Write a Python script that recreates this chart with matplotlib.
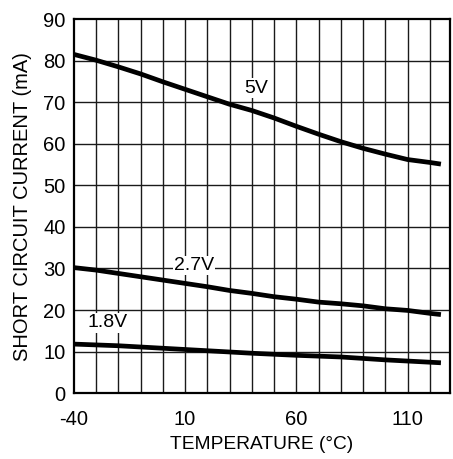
import matplotlib
matplotlib.use('Agg')
import matplotlib.pyplot as plt
import numpy as np

plt.rcParams['font.family'] = ['Liberation Sans', 'DejaVu Sans']
plt.rcParams['axes.unicode_minus'] = False

# temperature (degC) and short circuit current (mA)
temp = [-40, -30, -20, -10, 0, 10, 20, 30, 40, 50, 60, 70, 80, 90, 100, 110, 120, 125]
i_5v = [81.5, 80.1, 78.5, 76.8, 74.9, 73.1, 71.3, 69.5, 68.0, 66.2, 64.2, 62.3, 60.5,
        58.9, 57.5, 56.2, 55.5, 55.1]
i_27v = [30.2, 29.6, 28.8, 28.0, 27.2, 26.4, 25.6, 24.7, 24.0, 23.2, 22.6, 21.9, 21.5,
         21.0, 20.3, 19.9, 19.2, 18.9]
temp_18 = [-40, -20, 0, 20, 40, 60, 80, 100, 125]
i_18v = [11.8, 11.4, 10.8, 10.2, 9.6, 9.1, 8.7, 8.0, 7.3]

xticks = [-40, 10, 60, 110]
yticks = [0, 10, 20, 30, 40, 50, 60, 70, 80, 90]

fig = plt.figure(figsize=(4.53, 4.59), dpi=100)
ax = fig.add_axes([0.163, 0.1435, 0.83, 0.815])

# grid every 10 degC / 10 mA
for x in np.arange(-30, 130, 10):
    ax.axvline(x, color='#1a1a1a', lw=1.0, zorder=1)
for y in yticks[1:-1]:
    ax.axhline(y, color='#1a1a1a', lw=1.0, zorder=1)

ax.plot(temp, i_5v, color='black', lw=3.4, solid_capstyle='butt', zorder=3)
ax.plot(temp, i_27v, color='black', lw=3.4, solid_capstyle='butt', zorder=3)
ax.plot(temp_18, i_18v, color='black', lw=3.4, solid_capstyle='butt', zorder=3)

box = dict(facecolor='white', edgecolor='none', pad=1.0)
ax.text(41.8, 73.4, '5V', fontsize=14, ha='center', va='center', bbox=box, zorder=2)
ax.text(14, 30.7, '2.7V', fontsize=14, ha='center', va='center', bbox=box, zorder=2)
ax.text(-24.7, 16.9, '1.8V', fontsize=14, ha='center', va='center', bbox=box, zorder=2)

ax.set_xlim(-40, 129)
ax.set_ylim(0, 90)
ax.set_xticks(xticks)
ax.set_yticks(yticks)
ax.tick_params(length=0, labelsize=14.5)
ax.tick_params(axis='x', pad=12)
ax.tick_params(axis='y', pad=6)
for s in ax.spines.values():
    s.set_linewidth(1.6)
    s.set_color('black')

ax.set_xlabel('TEMPERATURE (°C)', fontsize=13.8, labelpad=5)
ax.set_ylabel('SHORT CIRCUIT CURRENT (mA)', fontsize=14.5, labelpad=8)

fig.savefig('out.png', dpi=100)
